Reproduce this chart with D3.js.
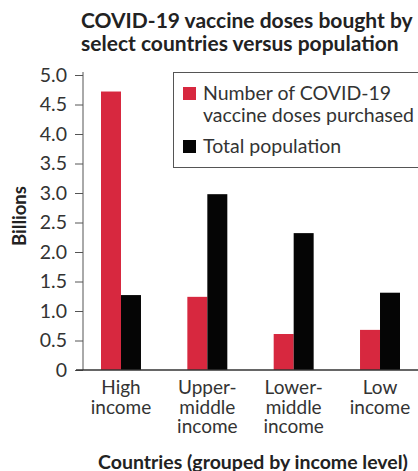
<!DOCTYPE html>
<html lang="en">
<head>
<meta charset="UTF-8">
<title>COVID-19 vaccine doses</title>
<script src="https://cdn.jsdelivr.net/npm/d3@7"></script>
<style>
  body { margin: 0; background: #fff; }
  svg { display: block; font-family: Lato, "Open Sans", sans-serif; }
  .tick text { fill: #333; }
</style>
</head>
<body>
<svg width="418" height="471"></svg>
<script>
// values (billions)
const categories = ["High income", "Upper-middle income", "Lower-middle income", "Low income"];
const categoryLines = [["High", "income"], ["Upper-", "middle", "income"], ["Lower-", "middle", "income"], ["Low", "income"]];
const dosesPurchased = [4.72, 1.24, 0.61, 0.68];
const totalPopulation = [1.27, 2.98, 2.32, 1.31];
const yTicks = [0, 0.5, 1, 1.5, 2, 2.5, 3, 3.5, 4, 4.5, 5];
const seriesNames = ["Number of COVID-19\nvaccine doses purchased", "Total population"];
const seriesColors = ["#d7283f", "#050505"];

const svg = d3.select("svg");

const x = d3.scaleBand()
  .domain(categories)
  .range([83, 418])
  .paddingInner(0.537)
  .paddingOuter(0.2085);

const xSub = d3.scaleBand()
  .domain([0, 1])
  .range([0, x.bandwidth()]);

const y = d3.scaleLinear()
  .domain([0, 5])
  .range([370, 75]);

// title
const title = svg.append("text")
  .attr("x", 81)
  .attr("y", 28)
  .style("font-weight", 700)
  .style("font-size", "21px")
  .style("fill", "#222");
title.append("tspan").attr("x", 81).text("COVID-19 vaccine doses bought by");
title.append("tspan").attr("x", 81).attr("dy", 22.5).text("select countries versus population");

// bars
const groups = svg.append("g")
  .selectAll("g")
  .data(categories)
  .join("g")
  .attr("transform", d => `translate(${x(d)},0)`);

groups.selectAll("rect")
  .data((d, i) => [dosesPurchased[i], totalPopulation[i]])
  .join("rect")
  .attr("x", (d, j) => xSub(j))
  .attr("width", xSub.bandwidth())
  .attr("y", d => y(d))
  .attr("height", d => y(0) - y(d))
  .attr("fill", (d, j) => seriesColors[j]);

// y axis
const yAxis = svg.append("g")
  .attr("transform", "translate(83,0)")
  .call(d3.axisLeft(y)
    .tickValues(yTicks)
    .tickFormat(d => d === 0 ? "0" : d.toFixed(1))
    .tickSize(8)
    .tickSizeOuter(0)
    .tickPadding(8));
yAxis.selectAll("text").style("font-size", "19.5px").style("font-family", "Lato");
yAxis.selectAll("line").attr("stroke", "#555");
yAxis.select(".domain").attr("stroke", "#555").attr("d", "M0,72V370");

// x axis line
svg.append("line")
  .attr("x1", 76).attr("x2", 418)
  .attr("y1", y(0)).attr("y2", y(0))
  .attr("stroke", "#333")
  .attr("stroke-width", 1.5);

// x category labels
const xl = svg.append("g")
  .selectAll("text")
  .data(categories)
  .join("text")
  .attr("text-anchor", "middle")
  .attr("y", 394)
  .style("font-size", "19px")
  .style("fill", "#333");
xl.each(function (d, i) {
  const cx = x(d) + x.bandwidth() / 2;
  d3.select(this).selectAll("tspan")
    .data(categoryLines[i])
    .join("tspan")
    .attr("x", cx)
    .attr("dy", (t, k) => k === 0 ? 0 : 19.5)
    .text(t => t);
});

// axis titles
svg.append("text")
  .attr("transform", "translate(26,216) rotate(-90)")
  .attr("text-anchor", "middle")
  .style("font-weight", 700)
  .style("font-size", "18.5px")
  .style("fill", "#222")
  .text("Billions");

svg.append("text")
  .attr("x", 253)
  .attr("y", 469)
  .attr("text-anchor", "middle")
  .style("font-weight", 700)
  .style("font-size", "19.5px")
  .style("fill", "#222")
  .text("Countries (grouped by income level)");

// legend
svg.append("rect")
  .attr("x", 173.5).attr("y", 72.5)
  .attr("width", 260).attr("height", 95)
  .attr("fill", "#fff")
  .attr("stroke", "#555");

const legendRows = [100, 153];
seriesNames.forEach((name, i) => {
  svg.append("rect")
    .attr("x", 183).attr("y", legendRows[i] - 13)
    .attr("width", 13).attr("height", 13)
    .attr("fill", seriesColors[i]);
  const t = svg.append("text")
    .attr("y", legendRows[i])
    .style("font-size", "19.5px")
    .style("fill", "#333");
  name.split("\n").forEach((line, k) => {
    t.append("tspan").attr("x", 203).attr("dy", k === 0 ? 0 : 21.5).text(line);
  });
});
</script>
</body>
</html>
